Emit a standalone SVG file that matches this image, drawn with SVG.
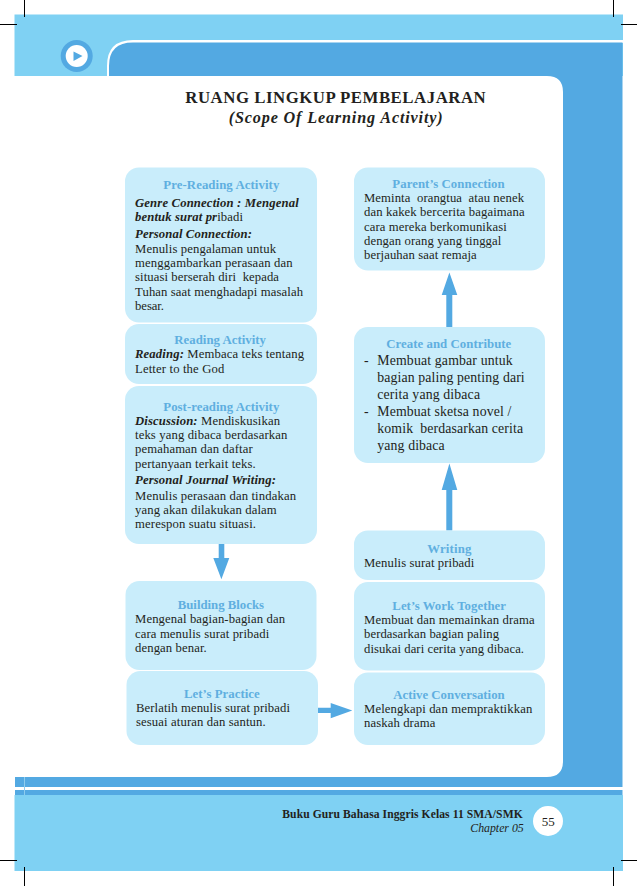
<svg xmlns="http://www.w3.org/2000/svg" width="638" height="886" viewBox="0 0 638 886">
<style>
text{font-family:"Liberation Serif","Times New Roman",serif;fill:#231f20}
.b{font-size:12.700px}
.l{font-size:13.800px}
.h{font-size:12.800px;font-weight:bold;fill:#5FAFE0}
.i{font-weight:bold;font-style:italic}
.box{fill:#C9EDFB}
.arrow{fill:#53A9E2}
.crop{stroke:#000;stroke-width:1;fill:none}
</style>
<g id="page-background">
<rect x="14.500" y="14.500" width="608.500" height="61.500" fill="#7FD1F3"/>
<path d="M107 76V66Q107 40 133 40H623V43H133Q110 43 110 66V76Z" fill="#fff"/>
<path d="M109 76V66Q109 42.500 133 42.500H622.500V787H15V777H547Q563 777 563 761V92Q563 76 547 76Z" fill="#53A9E2"/>
<rect x="15" y="790" width="607.500" height="5.500" fill="#53A9E2"/>
<rect x="14.500" y="795" width="608.500" height="76" fill="#7FD1F3"/>
<path d="M24.500 777V795" stroke="#8FCDEE" stroke-width="1" fill="none"/>
</g>
<g id="crop-marks">
<path class="crop" d="M24.500 0V17M0 24.500H17M613.500 0V17M621 24.500H637M0 860.500H17M24.500 867V886M621 860.500H637M613.500 867V886"/>
</g>
<g id="play-icon">
<circle cx="76.700" cy="56" r="16" fill="#53A9E2"/>
<circle cx="76.700" cy="56" r="11" fill="#fff"/>
<path d="M73.500 51.500L82.500 56L73.500 61Z" fill="#53A9E2"/>
</g>
<g id="title">
<text x="185.300" y="102.700" font-size="16.800" font-weight="bold" textLength="300.400">RUANG LINGKUP PEMBELAJARAN</text>
<text x="228.700" y="123.300" font-size="16.200" class="i" textLength="214">(Scope Of Learning Activity)</text>
</g>
<g id="connectors">
<path class="arrow" d="M446.300 327V295H441.700L449.400 272.500L457.300 295H452.300V327Z"/>
<path class="arrow" d="M446.300 530.500V490H441.700L449.400 463.500L457.300 490H452.300V530.500Z"/>
<path class="arrow" d="M218.700 544V558H213.300L221.400 579.300L229.300 558H224.300V544Z"/>
<path class="arrow" d="M317.700 707.700H330.700V703L352.300 710.400L330.700 718.300V713H317.700Z"/>
</g>
<g id="pre-reading">
<rect class="box" x="125" y="167.500" width="192" height="155" rx="14"/>
<text class="h" x="163.300" y="189.300" textLength="116">Pre-Reading Activity</text>
<text class="b i" x="135" y="206.700" textLength="163.700">Genre Connection : Mengenal</text>
<text class="b" x="135" y="221" textLength="108"><tspan class="i">bentuk surat pr</tspan>ibadi</text>
<text class="b i" x="135" y="237.700" textLength="117">Personal Connection:</text>
<text class="b" x="135" y="253" textLength="141">Menulis pengalaman untuk</text>
<text class="b" x="135" y="267.300" textLength="157.700">menggambarkan perasaan dan</text>
<text class="b" x="135" y="281.300" xml:space="preserve" textLength="144">situasi berserah diri  kepada</text>
<text class="b" x="135" y="295.700" textLength="168">Tuhan saat menghadapi masalah</text>
<text class="b" x="135" y="310" textLength="29">besar.</text>
</g>
<g id="reading">
<rect class="box" x="125" y="324" width="192" height="60" rx="14"/>
<text class="h" x="174.300" y="344" textLength="91.700">Reading Activity</text>
<text class="b" x="135" y="358.300" textLength="169"><tspan class="i">Reading:</tspan> Membaca teks tentang</text>
<text class="b" x="135" y="373.300" textLength="89.300">Letter to the God</text>
</g>
<g id="post-reading">
<rect class="box" x="125" y="386" width="192" height="158" rx="14"/>
<text class="h" x="163.300" y="411" textLength="116">Post-reading Activity</text>
<text class="b" x="135" y="425" textLength="145"><tspan class="i">Discussion:</tspan> Mendiskusikan</text>
<text class="b" x="135" y="439.300" textLength="152.300">teks yang dibaca berdasarkan</text>
<text class="b" x="135" y="453.300" textLength="117.700">pemahaman dan daftar</text>
<text class="b" x="135" y="468" textLength="120.700">pertanyaan terkait teks.</text>
<text class="b i" x="135" y="484.300" textLength="141">Personal Journal Writing:</text>
<text class="b" x="135" y="500" textLength="161">Menulis perasaan dan tindakan</text>
<text class="b" x="135" y="514" textLength="141.700">yang akan dilakukan dalam</text>
<text class="b" x="135" y="528" textLength="121">merespon suatu situasi.</text>
</g>
<g id="building-blocks">
<rect class="box" x="125.500" y="581" width="191" height="89" rx="14"/>
<text class="h" x="177.700" y="609" textLength="86.300">Building Blocks</text>
<text class="b" x="135" y="623" textLength="150">Mengenal bagian-bagian dan</text>
<text class="b" x="135" y="638" textLength="134.300">cara menulis surat pribadi</text>
<text class="b" x="135" y="652.300" textLength="71.700">dengan benar.</text>
</g>
<g id="lets-practice">
<rect class="box" x="126.500" y="671" width="191.500" height="74" rx="14"/>
<text class="h" x="184" y="698" textLength="75.700">Let’s Practice</text>
<text class="b" x="136" y="712" textLength="154">Berlatih menulis surat pribadi</text>
<text class="b" x="136" y="726" textLength="129.700">sesuai aturan dan santun.</text>
</g>
<g id="parents-connection">
<rect class="box" x="354" y="167.500" width="191" height="103" rx="14"/>
<text class="h" x="392.300" y="188" textLength="112.400">Parent’s Connection</text>
<text class="b" x="364" y="202" xml:space="preserve" textLength="160">Meminta  orangtua  atau nenek</text>
<text class="b" x="364" y="216" textLength="160.700">dan kakek bercerita bagaimana</text>
<text class="b" x="364" y="230.700" textLength="142.700">cara mereka berkomunikasi</text>
<text class="b" x="364" y="244.700" textLength="137.300">dengan orang yang tinggal</text>
<text class="b" x="364" y="259" textLength="112.700">berjauhan saat remaja</text>
</g>
<g id="create-and-contribute">
<rect class="box" x="354" y="327" width="191" height="136" rx="14"/>
<text class="h" x="386.300" y="348" textLength="125">Create and Contribute</text>
<text class="l" x="364" y="365">-</text>
<text class="l" x="377.300" y="365" textLength="135.400">Membuat gambar untuk</text>
<text class="l" x="377.300" y="382.300" textLength="147.400">bagian paling penting dari</text>
<text class="l" x="377.300" y="399" textLength="102.700">cerita yang dibaca</text>
<text class="l" x="364" y="415.700">-</text>
<text class="l" x="377.300" y="415.700" textLength="134">Membuat sketsa novel /</text>
<text class="l" x="377.300" y="433" xml:space="preserve" textLength="145.700">komik  berdasarkan cerita</text>
<text class="l" x="377.300" y="450" textLength="67.400">yang dibaca</text>
</g>
<g id="writing">
<rect class="box" x="354" y="530.500" width="191" height="49.500" rx="14"/>
<text class="h" x="427.300" y="553.300" textLength="44">Writing</text>
<text class="b" x="364" y="566.700" textLength="110.300">Menulis surat pribadi</text>
</g>
<g id="lets-work-together">
<rect class="box" x="354" y="582" width="191" height="88.500" rx="14"/>
<text class="h" x="392.300" y="610.300" textLength="113.700">Let’s Work Together</text>
<text class="b" x="364" y="623.700" textLength="170.700">Membuat dan memainkan drama</text>
<text class="b" x="364" y="638" textLength="135">berdasarkan bagian paling</text>
<text class="b" x="364" y="653" textLength="160">disukai dari cerita yang dibaca.</text>
</g>
<g id="active-conversation">
<rect class="box" x="354" y="672.500" width="191" height="72.500" rx="14"/>
<text class="h" x="393.300" y="699" textLength="111.400">Active Conversation</text>
<text class="b" x="364" y="712.700" textLength="168.300">Melengkapi dan mempraktikkan</text>
<text class="b" x="364" y="727" textLength="71.300">naskah drama</text>
</g>
<g id="footer">
<text x="282.300" y="817.700" font-size="11.600" font-weight="bold" textLength="240.400">Buku Guru Bahasa Inggris Kelas 11 SMA/SMK</text>
<text x="470.300" y="831.700" font-size="11.800" font-style="italic" textLength="53.400">Chapter 05</text>
<circle cx="548" cy="821" r="15" fill="#fff"/>
<text x="541.700" y="826" font-size="13" textLength="13">55</text>
</g>
</svg>
